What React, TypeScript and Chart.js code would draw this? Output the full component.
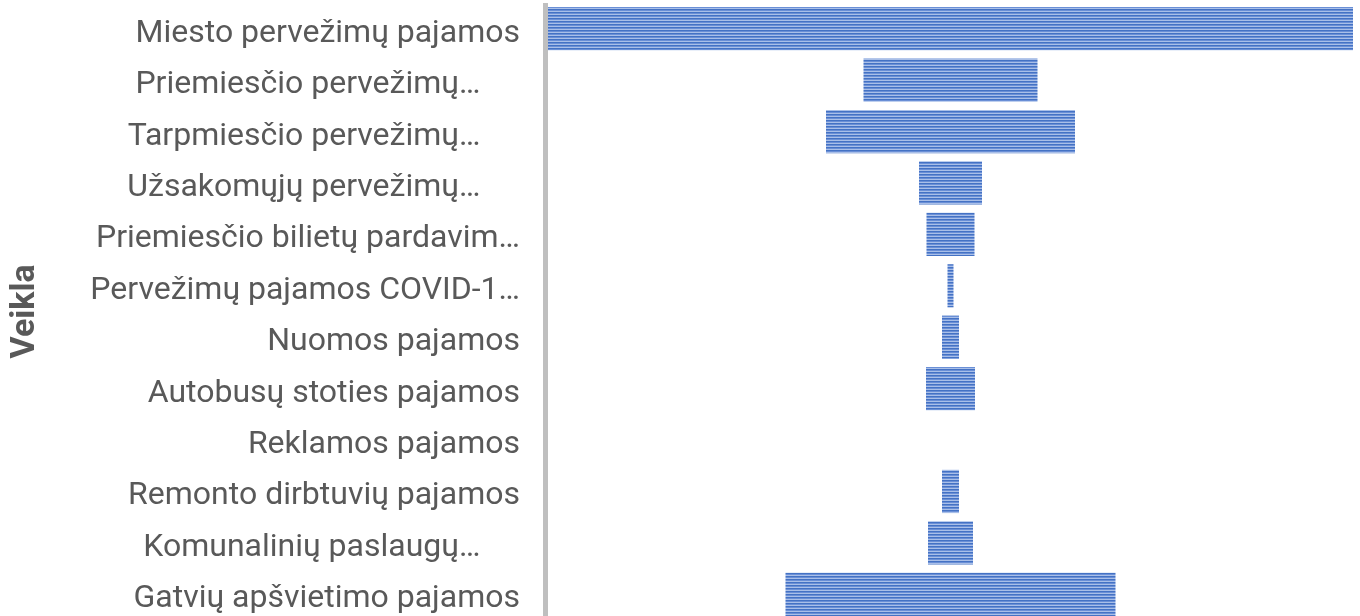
import React, { useEffect, useRef } from "react";
import { Chart, registerables } from "chart.js";

Chart.register(...registerables);

const categories = [
  "Miesto pervežimų pajamos",
  "Priemiesčio pervežimų…     ",
  "Tarpmiesčio pervežimų…     ",
  "Užsakomųjų pervežimų…     ",
  "Priemiesčio bilietų pardavim…",
  "Pervežimų pajamos COVID-1…",
  "Nuomos pajamos",
  "Autobusų stoties pajamos",
  "Reklamos pajamos",
  "Remonto dirbtuvių pajamos",
  "Komunalinių paslaugų…     ",
  "Gatvių apšvietimo pajamos",
];

const revenueValues = [16100, 3480, 4980, 1260, 960, 120, 340, 980, 0, 340, 900, 6600];

const axisTitle = "Veikla";

export default function App() {
  const ref = useRef<HTMLCanvasElement | null>(null);

  useEffect(() => {
    const canvas = ref.current;
    if (!canvas) return;
    const ctx = canvas.getContext("2d")!;

    const pc = document.createElement("canvas");
    pc.width = 4;
    pc.height = 3;
    const pctx = pc.getContext("2d")!;
    pctx.fillStyle = "#4472C4";
    pctx.fillRect(0, 0, 4, 1);
    pctx.fillStyle = "#6A8FD6";
    pctx.fillRect(0, 1, 4, 1);
    pctx.fillStyle = "#A9BFE8";
    pctx.fillRect(0, 2, 4, 1);
    const pattern = ctx.createPattern(pc, "repeat")!;

    const maxVal = Math.max(...revenueValues);
    const half = maxVal / 2;

    const axisLine = {
      id: "axisLine",
      beforeDatasetsDraw(chart: any) {
        const { ctx: c, chartArea } = chart;
        c.save();
        c.fillStyle = "#BFBFBF";
        c.fillRect(chartArea.left - 5, chartArea.top, 5, chartArea.bottom - chartArea.top);
        c.restore();
      },
    };

    const chart = new Chart(ctx, {
      type: "bar",
      data: {
        labels: categories,
        datasets: [
          {
            data: revenueValues.map((v) => [-v / 2, v / 2]) as any,
            backgroundColor: pattern as any,
            borderWidth: 0,
            barPercentage: 0.84,
            categoryPercentage: 1,
          },
        ],
      },
      options: {
        indexAxis: "y",
        responsive: false,
        animation: false,
        layout: { padding: { top: 3, bottom: 4, right: 7, left: 0 } },
        plugins: {
          legend: { display: false },
          tooltip: { enabled: false },
        },
        scales: {
          x: {
            display: false,
            min: -half,
            max: half,
          },
          y: {
            grid: { display: false, drawTicks: false },
            border: { display: false },
            ticks: {
              color: "#595959",
              padding: 28,
              labelOffset: 5,
              font: { family: "Roboto, sans-serif", size: 32 },
              autoSkip: false,
            },
            title: {
              display: true,
              text: axisTitle,
              color: "#595959",
              font: { family: "Roboto, sans-serif", size: 34, weight: "bold" },
              padding: { top: 5, bottom: 0 },
            },
            afterFit: (scale: any) => {
              scale.width = 548;
              scale.paddingTop = 0;
              scale.paddingBottom = 0;
            },
          },
        },
      },
      plugins: [axisLine],
    });

    return () => chart.destroy();
  }, []);

  return (
    <div
      style={{
        position: "fixed",
        top: 0,
        left: 0,
        width: 1360,
        height: 616,
        overflow: "hidden",
        background: "#ffffff",
      }}
    >
      <canvas ref={ref} width={1360} height={624} style={{ display: "block", width: 1360, height: 624 }} />
    </div>
  );
}
